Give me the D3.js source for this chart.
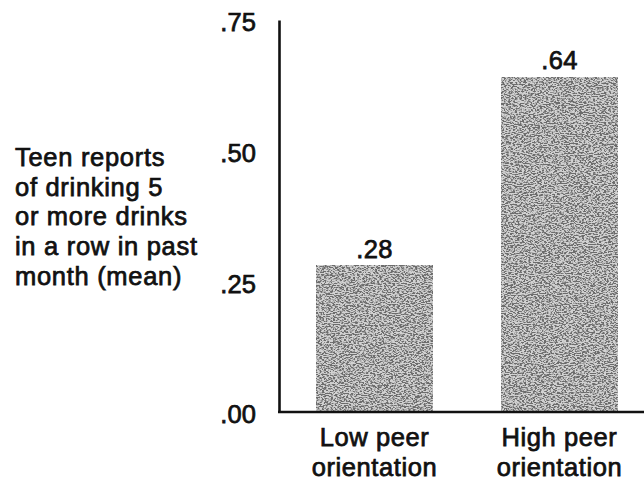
<!DOCTYPE html>
<html>
<head>
<meta charset="utf-8">
<script src="https://cdn.jsdelivr.net/npm/d3@7"></script>
<style>
  html, body { margin: 0; padding: 0; background: #fff; }
  svg { display: block; }
  text { font-family: "Liberation Sans", Arial, Helvetica, sans-serif; fill: #111; }
</style>
</head>
<body>
<svg id="chart" width="644" height="483"></svg>
<script>
// ---- data ----
const categories = [["Low peer", "orientation"], ["High peer", "orientation"]];
const values = [0.28, 0.64];
const valueLabels = [".28", ".64"];
const yTicks = [0, 0.25, 0.5, 0.75];
const yTickLabels = [".00", ".25", ".50", ".75"];
const yTitle = ["Teen reports", "of drinking 5", "or more drinks", "in a row in past", "month (mean)"];

// ---- layout ----
const W = 644, H = 483;
const svg = d3.select("#chart");
const FS = 25.5, SW = 0.75;

const y = d3.scaleLinear().domain([0, 0.75]).range([412, 20]);
const x = d3.scaleBand().domain(d3.range(values.length))
  .range([280, 654]).paddingInner(0.378).paddingOuter(0.2);

// grain filter for stippled bars
const defs = svg.append("defs");
const f = defs.append("filter").attr("id", "grain")
  .attr("x", 0).attr("y", 0).attr("width", 1).attr("height", 1)
  .attr("filterUnits", "objectBoundingBox");
f.append("feTurbulence").attr("type", "fractalNoise")
  .attr("baseFrequency", "0.45 0.9").attr("numOctaves", 2).attr("seed", 7).attr("result", "noise");
f.append("feColorMatrix").attr("in", "noise").attr("type", "matrix")
  .attr("values", "0 0 0 0 0.15  0 0 0 0 0.15  0 0 0 0 0.15  6 0 0 0 -2.55").attr("result", "dots");
f.append("feFlood").attr("flood-color", "#d2d2d2").attr("result", "bg");
f.append("feMerge").call(m => {
  m.append("feMergeNode").attr("in", "bg");
  m.append("feMergeNode").attr("in", "dots");
});

// bars
svg.append("g").selectAll("rect").data(values).join("rect")
  .attr("x", (d, i) => x(i))
  .attr("y", d => y(d))
  .attr("width", x.bandwidth())
  .attr("height", d => y(0) - y(d))
  .attr("fill", "#999")
  .attr("filter", "url(#grain)");

// value labels
svg.append("g").selectAll("text").data(values).join("text")
  .attr("x", (d, i) => x(i) + x.bandwidth() / 2)
  .attr("y", d => y(d) - 8)
  .attr("text-anchor", "middle")
  .attr("font-size", FS)
  .attr("letter-spacing", 0.3)
  .attr("stroke", "#111").attr("stroke-width", SW)
  .text((d, i) => valueLabels[i]);

// y axis
const yAxis = d3.axisLeft(y).tickValues(yTicks).tickSize(0).tickSizeOuter(0)
  .tickFormat((d, i) => yTickLabels[i]).tickPadding(23);
const gy = svg.append("g").attr("transform", "translate(279,0)").call(yAxis);
gy.select(".domain").attr("stroke", "#111").attr("stroke-width", 2.6);
gy.selectAll(".tick text")
  .attr("font-family", '"Liberation Sans", Arial, sans-serif')
  .attr("font-size", FS).attr("fill", "#111")
  .attr("letter-spacing", 0.1)
  .attr("stroke", "#111").attr("stroke-width", SW)
  .attr("dy", "0.42em");

// x axis
const xAxis = d3.axisBottom(x).tickSize(0).tickSizeOuter(0).tickFormat("");
const gx = svg.append("g").attr("transform", `translate(0,${y(0)})`).call(xAxis);
gx.select(".domain").attr("stroke", "#111").attr("stroke-width", 2.6)
  .attr("d", `M278,0H${W}`);

// category labels
const cat = svg.append("g").selectAll("text").data(categories).join("text")
  .attr("text-anchor", "middle")
  .attr("font-size", FS)
  .attr("letter-spacing", 0.6)
  .attr("stroke", "#111").attr("stroke-width", SW);
cat.each(function(lines, i) {
  d3.select(this).selectAll("tspan").data(lines).join("tspan")
    .attr("x", x(i) + x.bandwidth() / 2)
    .attr("y", (d, j) => 446 + j * 30)
    .text(d => d);
});

// y title
svg.append("text")
  .attr("font-size", FS)
  .attr("letter-spacing", 0.7)
  .attr("stroke", "#111").attr("stroke-width", SW)
  .selectAll("tspan").data(yTitle).join("tspan")
  .attr("x", 15)
  .attr("y", (d, j) => 166 + j * 29.7)
  .text(d => d);
</script>
</body>
</html>
